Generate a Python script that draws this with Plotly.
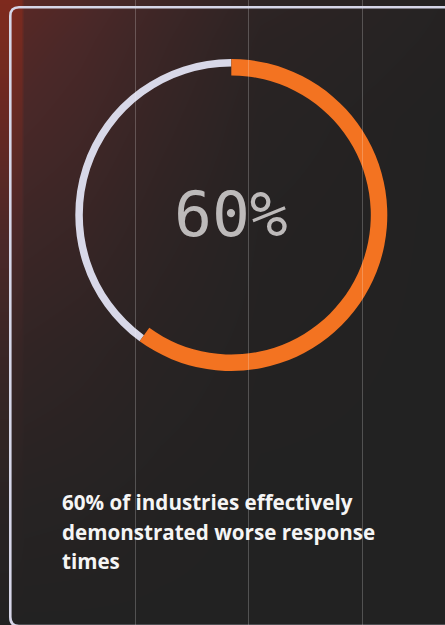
import plotly.graph_objects as go

# ---- data ----
labels = ["Worse response times", "Other"]
values = [60, 40]
center_label = "60%"
caption_lines = ["60% of industries effectively", "demonstrated worse response", "times"]

W, H = 445, 625
cx, cy, R = 231.3, 215.0, 156.0
orange_thick, grey_thick = 16.5, 7.5

# background gradient grid (decoration)
bg_x = [0, 10, 21, 24, 80, 160, 260, 445]
bg_y = [0, 40, 120, 220, 350, 500, 625]
bg_z = [
    [1.00, 1.00, 0.95, 0.64, 0.55, 0.36, 0.15, 0.04],
    [0.95, 0.95, 0.90, 0.58, 0.49, 0.31, 0.11, 0.03],
    [0.78, 0.78, 0.72, 0.48, 0.40, 0.24, 0.07, 0.00],
    [0.55, 0.55, 0.50, 0.34, 0.29, 0.16, 0.04, 0.00],
    [0.30, 0.30, 0.25, 0.19, 0.15, 0.08, 0.02, 0.00],
    [0.10, 0.10, 0.08, 0.06, 0.05, 0.02, 0.00, 0.00],
    [0.00, 0.00, 0.00, 0.00, 0.00, 0.00, 0.00, 0.00],
]

fig = go.Figure()

fig.add_trace(go.Heatmap(
    x=bg_x, y=bg_y, z=bg_z, zsmooth="best", showscale=False, hoverinfo="skip",
    zmin=0, zmax=1,
    colorscale=[[0, "#222222"], [0.5, "#4a2828"], [1, "#7e2a1e"]],
))

dom_x = [(cx - R) / W, (cx + R) / W]
dom_y = [(H - cy - R) / H, (H - cy + R) / H]

# thin grey ring (remaining share)
fig.add_trace(go.Pie(
    labels=labels, values=values, sort=False, direction="clockwise", rotation=0,
    hole=(R - grey_thick) / R, domain=dict(x=dom_x, y=dom_y),
    marker=dict(colors=["rgba(0,0,0,0)", "#d8d8e8"], line=dict(width=0)),
    textinfo="none", hoverinfo="skip", showlegend=False,
))
# thick orange ring (60%)
fig.add_trace(go.Pie(
    labels=labels, values=values, sort=False, direction="clockwise", rotation=0,
    hole=(R - orange_thick) / R, domain=dict(x=dom_x, y=dom_y),
    marker=dict(colors=["#f37321", "rgba(0,0,0,0)"], line=dict(width=0)),
    textinfo="none", hoverinfo="skip", showlegend=False,
))

shapes = []
for lx in [135.5, 248.5, 362.5]:
    shapes.append(dict(type="line", xref="x", yref="y", x0=lx, x1=lx, y0=0, y1=H,
                       line=dict(color="rgba(255,255,255,0.22)", width=1), layer="above"))
shapes.append(dict(
    type="path", xref="x", yref="y", layer="above",
    path="M 470,7.3 L 19,7.3 Q 10.3,7.3 10.3,16 L 10.3,617 Q 10.3,626 19,626 L 470,626",
    line=dict(color="#d6d6e8", width=2.6),
))

annotations = [dict(
    text=center_label, x=cx / W, y=(H - cy) / H, xref="paper", yref="paper",
    xanchor="center", yanchor="middle", showarrow=False,
    font=dict(family="DejaVu Sans Mono", size=63, color="#bdbaba"),
)]
for i, line in enumerate(caption_lines):
    yb = [502, 532, 561][i]
    annotations.append(dict(
        text=line, x=60 / W, y=(H - yb) / H, xref="paper", yref="paper",
        xanchor="left", yanchor="middle", showarrow=False,
        font=dict(family="Open Sans", size=20.6, color="#f5f5f5", weight="bold"),
    ))

fig.update_layout(
    width=W, height=H, margin=dict(l=0, r=0, t=0, b=0),
    paper_bgcolor="#222222", plot_bgcolor="#222222",
    xaxis=dict(range=[0, W], visible=False, fixedrange=True),
    yaxis=dict(range=[H, 0], visible=False, fixedrange=True),
    shapes=shapes, annotations=annotations, showlegend=False,
)

fig.write_html("out.html", config={"displayModeBar": False})
